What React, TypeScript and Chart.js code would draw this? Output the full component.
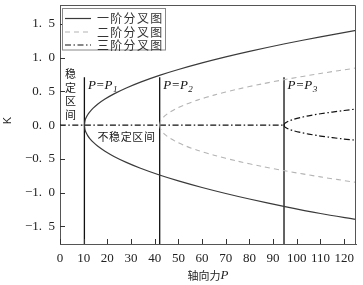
import React, { useEffect, useRef } from "react";
import { Chart, registerables } from "chart.js";

Chart.register(...registerables);

// ---------- data ----------
const X_TICKS = [0, 10, 20, 30, 40, 50, 60, 70, 80, 90, 100, 110, 120];
const Y_TICKS = [-1.5, -1.0, -0.5, 0.0, 0.5, 1.0, 1.5];
const X_MIN = 0;
const X_MAX = 125;
const Y_MIN = -1.76;
const Y_MAX = 1.78;

const BIF_P = [10.3, 42.1, 94.6];
const BIF_SUB = ["1", "2", "3"];
const BIF_LINE_TOP = 0.71;

const ORDER1_P = [10.3, 10.6, 11, 11.7, 12.5, 14, 16, 19, 23, 28, 34, 42, 50, 60, 70, 80, 95, 110, 125];
const ORDER1_UP = [0, 0.072, 0.11, 0.155, 0.194, 0.252, 0.313, 0.386, 0.467, 0.551, 0.638, 0.738, 0.825, 0.923, 1.012, 1.094, 1.206, 1.308, 1.405];
const ORDER1_LOW = [0, -0.072, -0.11, -0.155, -0.194, -0.252, -0.313, -0.386, -0.467, -0.551, -0.638, -0.738, -0.825, -0.923, -1.012, -1.094, -1.206, -1.308, -1.395];

const ORDER2_P = [42.1, 42.4, 42.8, 43.5, 44.5, 46, 49, 53, 58, 65, 75, 85, 95, 110, 125];
const ORDER2_UP = [0, 0.051, 0.078, 0.11, 0.144, 0.184, 0.244, 0.307, 0.371, 0.445, 0.533, 0.609, 0.676, 0.766, 0.847];
const ORDER2_LOW = [0, -0.051, -0.078, -0.11, -0.144, -0.184, -0.244, -0.307, -0.371, -0.445, -0.533, -0.609, -0.676, -0.766, -0.847];

const ORDER3_P = [94.6, 94.9, 95.3, 96, 97, 98.5, 101, 105, 110, 115, 120, 125];
const ORDER3_UP = [0, 0.024, 0.036, 0.051, 0.067, 0.085, 0.109, 0.139, 0.169, 0.194, 0.217, 0.239];
const ORDER3_LOW = [0, -0.023, -0.034, -0.048, -0.064, -0.081, -0.104, -0.132, -0.161, -0.184, -0.206, -0.222];

const TRIVIAL_P = [0, 94.6];
const TRIVIAL_K = [0, 0];

const LEGEND_LABELS = ["一阶分叉图", "二阶分叉图", "三阶分叉图"];
const STABLE_TEXT = "稳定区间";
const UNSTABLE_TEXT = "不稳定区间";
const X_TITLE = "轴向力";
const X_TITLE_VAR = "P";
const Y_TITLE = "K";

// ---------- styles ----------
const CJK = '"Noto Sans CJK SC", sans-serif';
const SERIF = '"Liberation Serif", "DejaVu Serif", serif';
const STYLE1 = { borderColor: "#3a3a3a", borderWidth: 1.2, borderDash: [] as number[] };
const STYLE2 = { borderColor: "#b4b4b4", borderWidth: 1.1, borderDash: [5, 4] };
const STYLE3 = { borderColor: "#111111", borderWidth: 1.2, borderDash: [6, 2.5, 1.5, 2.5] };
const LEGEND_STYLES = [STYLE1, STYLE2, STYLE3];

const pts = (xs: number[], ys: number[]) => xs.map((x, i) => ({ x, y: ys[i] }));

const fmtY = (v: number) => {
  const s = Math.abs(v).toFixed(1).replace(".", ".\u2002");
  return (v < 0 ? "\u2212" : "") + s;
};

const annotPlugin = {
  id: "annot",
  afterDraw(chart: any) {
    const ctx = chart.ctx as CanvasRenderingContext2D;
    const { left, right, top, bottom } = chart.chartArea;
    const xs = chart.scales.x;
    const ys = chart.scales.y;
    ctx.save();

    // frame
    ctx.strokeStyle = "#555";
    ctx.lineWidth = 1;
    ctx.setLineDash([]);
    ctx.beginPath();
    ctx.moveTo(left, top + 0.5);
    ctx.lineTo(right - 0.5, top + 0.5);
    ctx.lineTo(right - 0.5, bottom);
    ctx.stroke();

    // inward ticks
    ctx.strokeStyle = "#333";
    ctx.beginPath();
    X_TICKS.forEach((v) => {
      const px = Math.round(xs.getPixelForValue(v)) + 0.5;
      ctx.moveTo(px, bottom);
      ctx.lineTo(px, bottom - 5);
    });
    Y_TICKS.forEach((v) => {
      const py = Math.round(ys.getPixelForValue(v)) + 0.5;
      ctx.moveTo(left, py);
      ctx.lineTo(left + 5, py);
    });
    ctx.stroke();

    // legend
    const lx = 62.5, ly = 8.5, lw = 103, lh = 41.5;
    ctx.fillStyle = "#fff";
    ctx.fillRect(lx, ly, lw, lh);
    ctx.strokeStyle = "#888";
    ctx.strokeRect(lx, ly, lw, lh);
    const rows = [18.5, 32, 45];
    LEGEND_LABELS.forEach((lab, i) => {
      const st = LEGEND_STYLES[i];
      ctx.strokeStyle = st.borderColor;
      ctx.lineWidth = st.borderWidth;
      ctx.setLineDash(st.borderDash);
      ctx.beginPath();
      ctx.moveTo(65, rows[i]);
      ctx.lineTo(91, rows[i]);
      ctx.stroke();
      ctx.setLineDash([]);
      ctx.fillStyle = "#333";
      ctx.font = `12px ${CJK}`;
      ctx.textBaseline = "middle";
      ctx.textAlign = "left";
      let cx0 = 97;
      Array.from(lab).forEach((ch) => {
        ctx.fillText(ch, cx0, rows[i]);
        cx0 += 13.3;
      });
    });

    // P = P_i labels
    ctx.fillStyle = "#111";
    BIF_P.forEach((p, i) => {
      const px = xs.getPixelForValue(p) + 3.5;
      ctx.font = `italic 13px ${SERIF}`;
      ctx.textBaseline = "alphabetic";
      ctx.textAlign = "left";
      const main = "P=P";
      ctx.fillText(main, px, 89);
      const w = ctx.measureText(main).width;
      ctx.font = `italic 9px ${SERIF}`;
      ctx.fillText(BIF_SUB[i], px + w + 0.5, 92);
    });

    // stable region (vertical text)
    ctx.font = `11px ${CJK}`;
    ctx.textAlign = "center";
    ctx.textBaseline = "middle";
    ctx.fillStyle = "#222";
    Array.from(STABLE_TEXT).forEach((ch, i) => {
      ctx.fillText(ch, 70.5, 74 + i * 13.6);
    });
    // unstable region
    ctx.textAlign = "left";
    let ux = 97.5;
    Array.from(UNSTABLE_TEXT).forEach((ch) => {
      ctx.fillText(ch, ux, 137);
      ux += 11.6;
    });

    // x title
    ctx.font = `11px ${CJK}`;
    const w1 = ctx.measureText(X_TITLE).width;
    ctx.font = `italic 13px ${SERIF}`;
    const w2 = ctx.measureText(X_TITLE_VAR).width;
    const cx = (left + right) / 2;
    const sx = cx - (w1 + w2) / 2;
    ctx.textBaseline = "middle";
    ctx.font = `11px ${CJK}`;
    ctx.fillText(X_TITLE, sx, 276);
    ctx.font = `italic 13px ${SERIF}`;
    ctx.fillText(X_TITLE_VAR, sx + w1, 276);

    // y title
    ctx.save();
    ctx.translate(8, 120.5);
    ctx.rotate(-Math.PI / 2);
    ctx.font = `11px "Liberation Sans", sans-serif`;
    ctx.textAlign = "center";
    ctx.textBaseline = "middle";
    ctx.fillText(Y_TITLE, 0, 0);
    ctx.restore();

    ctx.restore();
  },
};

export default function App() {
  const ref = useRef<HTMLCanvasElement | null>(null);

  useEffect(() => {
    document.body.style.margin = "0";
    const canvas = ref.current;
    if (!canvas) return;

    const base = { pointRadius: 0, pointHoverRadius: 0, fill: false, tension: 0.3 };
    const datasets: any[] = [
      { label: "一阶分叉图", data: pts(ORDER1_P, ORDER1_UP), ...base, ...STYLE1 },
      { label: "一阶分叉图-", data: pts(ORDER1_P, ORDER1_LOW), ...base, ...STYLE1 },
      { label: "二阶分叉图", data: pts(ORDER2_P, ORDER2_UP), ...base, ...STYLE2 },
      { label: "二阶分叉图-", data: pts(ORDER2_P, ORDER2_LOW), ...base, ...STYLE2 },
      { label: "三阶分叉图", data: pts(ORDER3_P, ORDER3_UP), ...base, ...STYLE3 },
      { label: "三阶分叉图-", data: pts(ORDER3_P, ORDER3_LOW), ...base, ...STYLE3 },
      { label: "trivial", data: pts(TRIVIAL_P, TRIVIAL_K), ...base, ...STYLE3 },
      ...BIF_P.map((p, i) => ({
        label: "P" + BIF_SUB[i],
        data: [
          { x: p, y: BIF_LINE_TOP },
          { x: p, y: Y_MIN },
        ],
        ...base,
        tension: 0,
        borderColor: "#111",
        borderWidth: 1.3,
      })),
    ];

    const chart = new Chart(canvas, {
      type: "line",
      data: { datasets },
      options: {
        animation: false,
        responsive: false,
        devicePixelRatio: 1,
        layout: { padding: { top: 5, right: 7, left: 0, bottom: 0 } },
        plugins: { legend: { display: false }, tooltip: { enabled: false } },
        scales: {
          x: {
            type: "linear",
            min: X_MIN,
            max: X_MAX,
            afterBuildTicks: (s: any) => {
              s.ticks = X_TICKS.map((v) => ({ value: v }));
            },
            afterFit: (s: any) => {
              s.height = 41;
              s.paddingLeft = 0;
              s.paddingRight = 0;
            },
            grid: { display: false, drawTicks: false },
            border: { display: true, color: "#555", width: 1 },
            ticks: {
              padding: 7,
              maxRotation: 0,
              autoSkip: false,
              color: "#222",
              font: { family: SERIF, size: 13 },
              callback: (v: any) => String(v),
            },
          },
          y: {
            type: "linear",
            min: Y_MIN,
            max: Y_MAX,
            afterBuildTicks: (s: any) => {
              s.ticks = Y_TICKS.map((v) => ({ value: v }));
            },
            afterFit: (s: any) => {
              s.width = 60;
              s.paddingTop = 0;
              s.paddingBottom = 0;
            },
            grid: { display: false, drawTicks: false },
            border: { display: true, color: "#555", width: 1 },
            ticks: {
              padding: 5,
              autoSkip: false,
              color: "#222",
              font: { family: SERIF, size: 13 },
              callback: (v: any) => fmtY(Number(v)),
            },
          },
        },
      },
      plugins: [annotPlugin],
    } as any);

    return () => chart.destroy();
  }, []);

  return (
    <div style={{ width: 363, height: 285 }}>
      <canvas ref={ref} width={363} height={285} style={{ display: "block" }} />
    </div>
  );
}
